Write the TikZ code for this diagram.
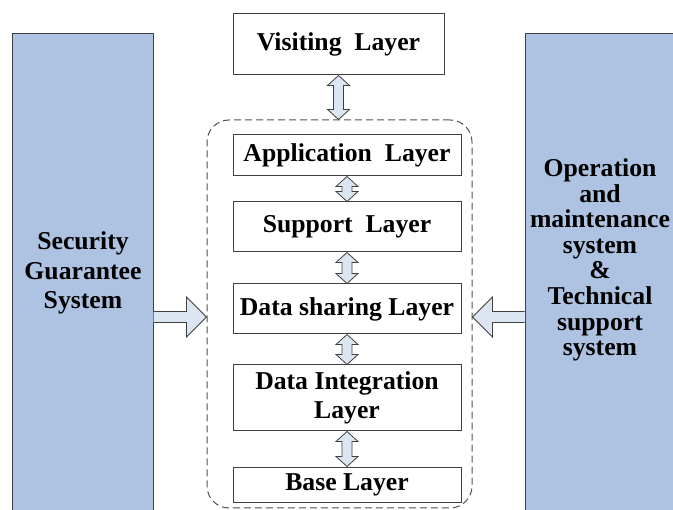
\documentclass[tikz,border=0pt]{standalone}
\usepackage{fontspec}
\setmainfont{Liberation Serif}
\usetikzlibrary{positioning, calc}
\definecolor{sysblue}{RGB}{174, 194, 226}
\definecolor{arrowblue}{RGB}{220, 230, 242}
\definecolor{edgegray}{RGB}{64, 64, 64}
\definecolor{dashgray}{RGB}{80, 80, 80}

\begin{document}
\begin{tikzpicture}[
	x=1bp, y=1bp,
	% boxes of the layered core
	layerbox/.style={
			rectangle,
			draw=edgegray,
			fill=white,
			line width=1bp,
			minimum width=228bp,
			inner sep=0pt,
			align=center,
			font=\fontsize{25.7bp}{29bp}\selectfont\bfseries
		},
	corebox/.style={
			rectangle,
			rounded corners=22bp,
			draw=dashgray,
			line width=1bp,
			dash pattern=on 7bp off 4bp,
			minimum width=265bp,
			minimum height=388bp
		},
	% tall side systems
	sysbox/.style={
			rectangle,
			draw=edgegray,
			fill=sysblue,
			line width=1bp,
			minimum height=478bp,
			inner sep=0pt,
			align=center,
			font=\fontsize{25.7bp}{29.5bp}\selectfont\bfseries
		},
	systext/.style={
			inner sep=0pt,
			align=center,
			font=\fontsize{25.7bp}{25.6bp}\selectfont\bfseries
		},
	fatarrow/.style={
			draw=edgegray,
			fill=arrowblue,
			line width=0.8bp,
			line join=miter
		}
	]

	\useasboundingbox (0, 0) rectangle (673, 510);
	\clip (0, 0) rectangle (673, 510);

	% Side systems
	\node[sysbox, minimum width=140bp] (secsys) at (83, 237) {Security\\Guarantee\\System};
	\node[sysbox, minimum width=154bp] (opsys) at (602, 237) {};
	\node[systext] (optext) at ([xshift=-2bp, yshift=13bp]opsys.center) {Operation\\and\\maintenance\\system\\\&\\Technical\\support\\system};

	% Visiting layer and the dashed core
	\node[layerbox, minimum width=211bp, minimum height=61bp] (visit) at (338.5, 465.5) {Visiting\ \ Layer};
	\node[corebox] (core) at (339.5, 196) {};

	% Layers stacked inside the core
	\node[layerbox, minimum height=41bp] (app) at (347, 354.5) {Application\ \ Layer};
	\node[layerbox, minimum height=50bp, below=25bp of app] (supp) {Support\ \ Layer};
	\node[layerbox, minimum height=50bp, below=31bp of supp] (share) {Data sharing Layer};
	\node[layerbox, minimum height=66bp, below=30bp of share] (integ) {Data Integration\\Layer};
	\node[layerbox, minimum height=35bp, below=35bp of integ] (base) {Base Layer};

	% Two-headed block arrows between layers
	\foreach \upper/\lower in {visit/core, app/supp, supp/share, share/integ, integ/base} {
			\draw[fatarrow] let \p1=(\upper.south), \p2=(\lower.north) in
			(\x1, \y1) -- ++(11bp, -10bp) -- ++(-6bp, 0) -- (\x1+5bp, \y2+10bp) -- ++(6bp, 0)
			-- (\x1, \y2) -- ++(-11bp, 10bp) -- ++(6bp, 0) -- (\x1-5bp, \y1-10bp) -- ++(-6bp, 0) -- cycle;
		}

	% Block arrows from the side systems into the core
	\draw[fatarrow] let \p1=(secsys.east), \p2=([yshift=-3bp]core.west) in
	(\x1, \y2+5.5bp) -- (\x2-20bp, \y2+5.5bp) -- (\x2-20bp, \y2+20bp) -- (\x2, \y2)
	-- (\x2-20bp, \y2-20bp) -- (\x2-20bp, \y2-5.5bp) -- (\x1, \y2-5.5bp);
	\draw[fatarrow] let \p1=(opsys.west), \p2=([yshift=-3bp]core.east) in
	(\x1, \y2+5.5bp) -- (\x2+20bp, \y2+5.5bp) -- (\x2+20bp, \y2+20bp) -- (\x2, \y2)
	-- (\x2+20bp, \y2-20bp) -- (\x2+20bp, \y2-5.5bp) -- (\x1, \y2-5.5bp);

\end{tikzpicture}
\end{document}
